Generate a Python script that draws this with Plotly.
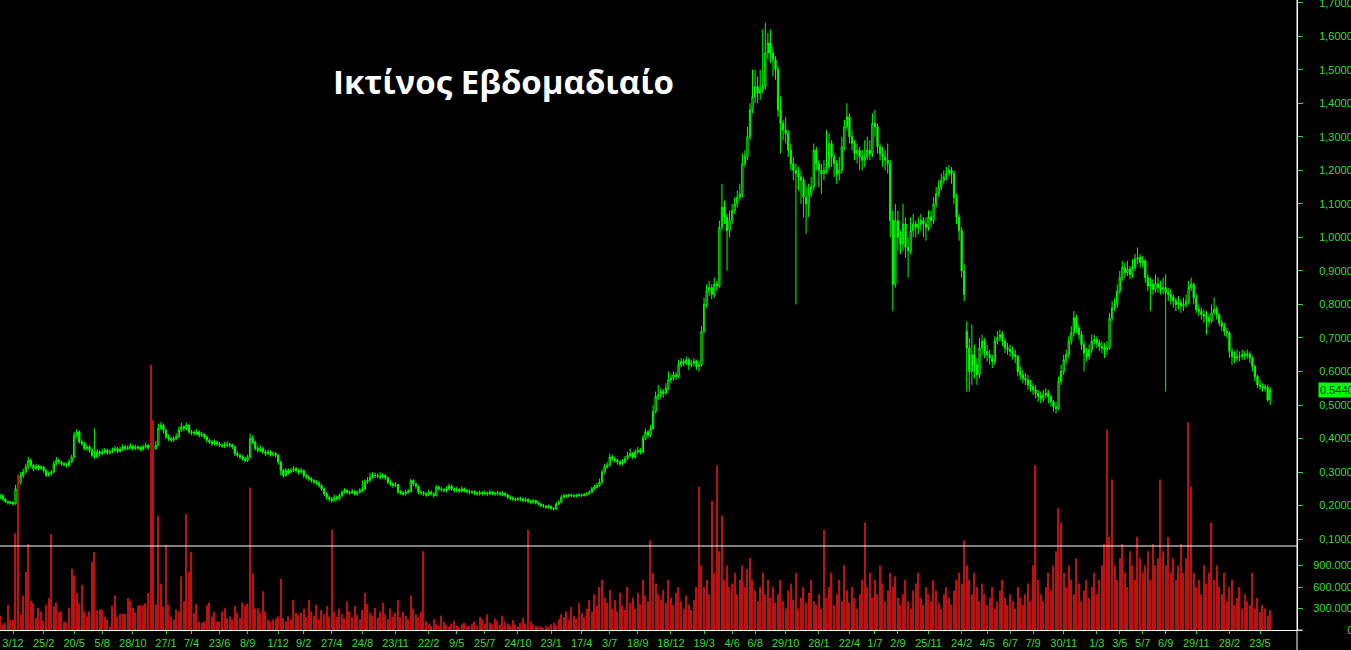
import pandas as pd
import plotly.graph_objects as go

# ---------------- data (weekly candles) ----------------
open_ = [
 .225,.230,.220,.212,.208,.210,.205,.250,.270,.290,
 .300,.315,.335,.320,.310,.318,.312,.315,.305,.290,
 .295,.300,.325,.335,.330,.325,.322,.320,.330,.345,
 .410,.420,.390,.385,.370,.375,.365,.350,.345,.360,
 .355,.360,.365,.358,.360,.365,.370,.362,.368,.375,
 .370,.372,.378,.370,.375,.372,.368,.375,.380,.372,
 .376,.370,.380,.430,.440,.425,.405,.400,.395,.400,
 .405,.425,.435,.430,.440,.420,.418,.415,.420,.410,
 .412,.405,.395,.390,.385,.390,.383,.380,.378,.380,
 .382,.380,.375,.355,.350,.345,.340,.335,.345,.400,
 .390,.370,.365,.370,.360,.355,.360,.352,.355,.350,
 .330,.305,.290,.305,.300,.305,.310,.305,.300,.305,
 .290,.285,.280,.275,.270,.268,.260,.250,.235,.225,
 .220,.215,.225,.220,.230,.240,.245,.240,.238,.242,
 .235,.240,.245,.250,.270,.275,.285,.290,.290,.288,
 .285,.290,.283,.270,.265,.260,.262,.240,.238,.235,
 .240,.242,.275,.265,.258,.240,.238,.235,.232,.240,
 .235,.230,.255,.250,.248,.245,.250,.258,.250,.245,
 .248,.243,.250,.245,.242,.240,.240,.238,.235,.238,
 .236,.238,.235,.240,.237,.235,.238,.234,.236,.232,
 .225,.222,.220,.218,.220,.220,.215,.218,.212,.210,
 .215,.208,.205,.200,.198,.195,.197,.192,.190,.205,
 .210,.225,.230,.228,.232,.230,.228,.230,.232,.230,
 .233,.235,.240,.250,.255,.260,.270,.300,.315,.320,
 .345,.340,.335,.330,.325,.330,.340,.350,.355,.345,
 .360,.365,.360,.400,.420,.410,.430,.480,.525,.530,
 .540,.535,.550,.575,.580,.590,.585,.620,.630,.625,
 .635,.620,.625,.630,.615,.620,.720,.800,.840,.850,
 .830,.860,.855,1.030,1.090,1.060,1.020,1.050,1.080,1.100,
 1.120,1.130,1.220,1.240,1.300,1.380,1.420,1.450,1.430,1.440,
 1.450,1.550,1.580,1.550,1.530,1.500,1.380,1.340,1.320,1.310,
 1.260,1.220,1.200,1.190,1.180,1.170,1.120,1.100,1.130,1.150,
 1.260,1.220,1.200,1.190,1.200,1.210,1.280,1.240,1.220,1.190,
 1.200,1.270,1.330,1.360,1.300,1.280,1.250,1.260,1.240,1.230,
 1.240,1.260,1.250,1.340,1.330,1.270,1.250,1.240,1.230,1.220,
 1.050,.860,1.050,1.000,.980,1.040,.970,.960,1.020,1.040,
 1.030,1.040,1.050,1.040,1.030,1.060,1.050,1.100,1.130,1.150,
 1.170,1.180,1.190,1.200,1.190,1.120,1.060,1.020,.900,.720,
 .670,.600,.650,.620,.590,.670,.690,.660,.650,.640,
 .630,.690,.700,.710,.690,.670,.665,.660,.650,.645,
 .600,.590,.580,.575,.560,.555,.545,.535,.525,.520,
 .530,.535,.525,.510,.495,.490,.570,.600,.635,.650,
 .690,.715,.760,.730,.710,.680,.655,.645,.665,.690,
 .695,.685,.675,.670,.665,.670,.760,.790,.800,.840,
 .880,.910,.895,.905,.890,.910,.935,.940,.925,.930,
 .880,.855,.860,.845,.862,.850,.845,.850,.835,.830,
 .822,.810,.800,.805,.795,.800,.810,.850,.860,.820,
 .785,.780,.770,.765,.760,.750,.775,.785,.770,.745,
 .735,.720,.715,.660,.645,.640,.645,.645,.650,.648,
 .652,.640,.615,.585,.560,.555,.550,.553,.515]

high = [
 .235,.233,.222,.215,.214,.212,.262,.285,.300,.310,
 .325,.345,.340,.325,.325,.322,.320,.318,.308,.302,
 .306,.333,.345,.340,.334,.330,.328,.338,.352,.420,
 .428,.424,.398,.390,.382,.380,.370,.430,.368,.366,
 .370,.372,.370,.368,.373,.378,.375,.376,.383,.380,
 .380,.386,.382,.382,.380,.377,.382,.388,.384,.384,
 .380,.392,.445,.450,.445,.428,.412,.405,.408,.415,
 .435,.448,.440,.447,.442,.426,.424,.428,.424,.420,
 .416,.408,.400,.396,.397,.394,.390,.386,.390,.392,
 .388,.385,.378,.362,.356,.350,.346,.352,.415,.410,
 .394,.378,.380,.375,.366,.368,.365,.362,.360,.352,
 .333,.310,.312,.310,.313,.318,.316,.310,.312,.308,
 .295,.290,.285,.280,.276,.272,.264,.254,.240,.230,
 .225,.232,.230,.236,.246,.252,.250,.245,.250,.246,
 .246,.252,.275,.278,.285,.298,.300,.298,.296,.300,
 .297,.294,.286,.275,.270,.270,.265,.246,.244,.248,
 .250,.280,.278,.268,.260,.246,.243,.240,.248,.245,
 .240,.262,.260,.255,.252,.258,.266,.262,.254,.256,
 .252,.258,.254,.250,.248,.246,.245,.242,.245,.244,
 .245,.242,.247,.244,.242,.245,.242,.243,.240,.235,
 .230,.228,.224,.226,.226,.224,.224,.222,.217,.220,
 .218,.212,.208,.205,.202,.203,.200,.196,.210,.216,
 .232,.236,.234,.236,.235,.234,.235,.237,.236,.238,
 .240,.246,.256,.262,.268,.280,.308,.325,.330,.356,
 .352,.346,.340,.336,.338,.348,.360,.370,.360,.368,
 .375,.372,.410,.430,.425,.440,.500,.540,.560,.550,
 .548,.565,.600,.592,.600,.598,.635,.640,.638,.645,
 .640,.635,.640,.635,.632,.735,.820,.860,.870,.860,
 .880,.870,1.050,1.160,1.110,1.070,1.080,1.100,1.120,1.140,
 1.160,1.250,1.260,1.330,1.400,1.500,1.500,1.480,1.500,1.620,
 1.640,1.610,1.620,1.570,1.540,1.510,1.420,1.350,1.360,1.320,
 1.280,1.240,1.220,1.210,1.200,1.180,1.150,1.160,1.180,1.280,
 1.270,1.230,1.220,1.230,1.320,1.310,1.290,1.250,1.230,1.240,
 1.300,1.350,1.400,1.370,1.320,1.290,1.280,1.270,1.260,1.290,
 1.300,1.290,1.370,1.380,1.340,1.280,1.270,1.260,1.280,1.230,
 1.080,1.100,1.080,1.020,1.100,1.060,1.000,1.060,1.070,1.050,
 1.060,1.070,1.060,1.060,1.080,1.080,1.120,1.150,1.170,1.190,
 1.200,1.210,1.215,1.210,1.200,1.130,1.070,1.030,.920,.750,
 .700,.740,.680,.640,.700,.710,.700,.680,.665,.650,
 .705,.720,.725,.720,.700,.685,.680,.675,.665,.650,
 .615,.605,.595,.590,.575,.565,.560,.545,.540,.545,
 .550,.545,.530,.515,.510,.585,.620,.650,.665,.705,
 .735,.780,.770,.740,.720,.690,.670,.680,.710,.710,
 .705,.695,.690,.685,.690,.775,.810,.820,.860,.900,
 .930,.925,.930,.915,.935,.950,.970,.950,.945,.935,
 .890,.880,.875,.890,.880,.870,.880,.890,.850,.845,
 .830,.820,.825,.815,.820,.830,.870,.880,.865,.830,
 .800,.790,.785,.780,.770,.800,.820,.795,.775,.755,
 .745,.730,.720,.670,.660,.665,.660,.665,.662,.665,
 .660,.645,.620,.590,.575,.565,.562,.560,.552]

low = [
 .218,.215,.208,.203,.204,.200,.203,.245,.262,.282,
 .295,.310,.312,.302,.305,.305,.306,.298,.285,.286,
 .290,.297,.320,.323,.318,.316,.313,.316,.326,.342,
 .400,.385,.378,.365,.364,.358,.345,.338,.340,.348,
 .350,.355,.352,.352,.356,.360,.356,.358,.363,.364,
 .365,.368,.364,.366,.366,.362,.364,.370,.366,.366,
 .350,.366,.378,.425,.415,.398,.393,.390,.390,.396,
 .402,.420,.422,.425,.414,.410,.408,.410,.403,.404,
 .398,.388,.384,.378,.380,.377,.374,.372,.372,.374,
 .373,.368,.348,.344,.338,.334,.328,.330,.342,.384,
 .364,.358,.360,.354,.348,.350,.346,.347,.343,.322,
 .290,.283,.286,.293,.296,.300,.298,.292,.295,.282,
 .278,.273,.268,.264,.262,.254,.244,.228,.218,.212,
 .208,.212,.214,.216,.226,.236,.234,.232,.234,.230,
 .230,.236,.240,.246,.265,.270,.280,.282,.282,.278,
 .280,.276,.264,.258,.252,.255,.234,.232,.229,.230,
 .236,.240,.258,.250,.234,.232,.229,.226,.228,.230,
 .224,.228,.244,.242,.239,.240,.245,.244,.239,.240,
 .237,.240,.239,.236,.234,.234,.232,.229,.230,.230,
 .231,.229,.231,.231,.229,.230,.228,.229,.226,.219,
 .216,.214,.213,.214,.214,.210,.210,.207,.205,.205,
 .203,.200,.195,.193,.190,.191,.187,.185,.188,.202,
 .207,.221,.224,.224,.226,.224,.224,.226,.226,.227,
 .229,.232,.237,.246,.251,.256,.266,.295,.310,.316,
 .333,.328,.322,.318,.320,.326,.336,.345,.338,.340,
 .355,.352,.356,.395,.400,.405,.425,.475,.515,.520,
 .522,.530,.545,.565,.572,.575,.580,.612,.615,.618,
 .605,.612,.615,.605,.600,.615,.715,.790,.825,.815,
 .820,.840,.850,1.020,1.040,.900,1.000,1.040,1.070,1.090,
 1.110,1.120,1.210,1.230,1.290,1.370,1.400,1.400,1.410,1.430,
 1.440,1.530,1.520,1.480,1.470,1.360,1.250,1.290,1.280,1.240,
 1.200,1.170,.800,1.140,1.100,1.060,1.010,1.060,1.120,1.140,
 1.200,1.150,1.130,1.170,1.190,1.200,1.210,1.180,1.160,1.170,
 1.190,1.260,1.320,1.280,1.260,1.230,1.220,1.200,1.200,1.210,
 1.230,1.230,1.240,1.300,1.250,1.230,1.210,1.200,1.190,1.000,
 .780,.850,.960,.950,.960,.940,.880,.950,1.000,1.000,
 1.010,1.020,1.000,.990,1.020,1.030,1.040,1.090,1.120,1.140,
 1.160,1.170,1.180,1.160,1.100,1.040,.990,.880,.810,.540,
 .540,.560,.580,.560,.580,.650,.640,.630,.620,.610,
 .620,.680,.690,.675,.655,.650,.645,.635,.625,.585,
 .575,.565,.560,.545,.540,.530,.520,.510,.505,.510,
 .520,.505,.495,.480,.475,.485,.560,.590,.625,.640,
 .680,.705,.715,.695,.665,.600,.630,.635,.655,.680,
 .670,.660,.655,.640,.650,.665,.750,.780,.790,.830,
 .870,.880,.885,.875,.880,.900,.920,.910,.910,.865,
 .840,.780,.830,.835,.835,.830,.830,.540,.810,.800,
 .790,.780,.785,.775,.780,.790,.800,.840,.800,.775,
 .765,.755,.745,.710,.735,.745,.770,.755,.735,.720,
 .705,.700,.640,.620,.625,.630,.630,.635,.635,.638,
 .625,.600,.570,.550,.545,.540,.540,.510,.500]

close = [
 .230,.220,.212,.208,.210,.205,.250,.270,.290,.300,
 .315,.335,.320,.310,.318,.312,.315,.305,.290,.295,
 .300,.325,.335,.330,.325,.322,.320,.330,.345,.410,
 .420,.390,.385,.370,.375,.365,.350,.345,.360,.355,
 .360,.365,.358,.360,.365,.370,.362,.368,.375,.370,
 .372,.378,.370,.375,.372,.368,.375,.380,.372,.376,
 .370,.380,.430,.440,.425,.405,.400,.395,.400,.405,
 .425,.435,.430,.440,.420,.418,.415,.420,.410,.412,
 .405,.395,.390,.385,.390,.383,.380,.378,.380,.382,
 .380,.375,.355,.350,.345,.340,.335,.345,.400,.390,
 .370,.365,.370,.360,.355,.360,.352,.355,.350,.330,
 .305,.290,.305,.300,.305,.310,.305,.300,.305,.290,
 .285,.280,.275,.270,.268,.260,.250,.235,.225,.220,
 .215,.225,.220,.230,.240,.245,.240,.238,.242,.235,
 .240,.245,.250,.270,.275,.285,.290,.290,.288,.285,
 .290,.283,.270,.265,.260,.262,.240,.238,.235,.240,
 .242,.275,.265,.258,.240,.238,.235,.232,.240,.235,
 .230,.255,.250,.248,.245,.250,.258,.250,.245,.248,
 .243,.250,.245,.242,.240,.240,.238,.235,.238,.236,
 .238,.235,.240,.237,.235,.238,.234,.236,.232,.225,
 .222,.220,.218,.220,.220,.215,.218,.212,.210,.215,
 .208,.205,.200,.198,.195,.197,.192,.190,.205,.210,
 .225,.230,.228,.232,.230,.228,.230,.232,.230,.233,
 .235,.240,.250,.255,.260,.270,.300,.315,.320,.345,
 .340,.335,.330,.325,.330,.340,.350,.355,.345,.360,
 .365,.360,.400,.420,.410,.430,.480,.525,.530,.540,
 .535,.550,.575,.580,.590,.585,.620,.630,.625,.635,
 .620,.625,.630,.615,.620,.720,.800,.840,.850,.830,
 .860,.855,1.030,1.090,1.060,1.020,1.050,1.080,1.100,1.120,
 1.130,1.220,1.240,1.300,1.380,1.420,1.450,1.430,1.440,1.450,
 1.550,1.580,1.550,1.530,1.500,1.380,1.340,1.320,1.310,1.260,
 1.220,1.200,1.190,1.180,1.170,1.120,1.100,1.130,1.150,1.260,
 1.220,1.200,1.190,1.200,1.210,1.280,1.240,1.220,1.190,1.200,
 1.270,1.330,1.360,1.300,1.280,1.250,1.260,1.240,1.230,1.240,
 1.260,1.250,1.340,1.330,1.270,1.250,1.240,1.230,1.220,1.050,
 .860,1.050,1.000,.980,1.040,.970,.960,1.020,1.040,1.030,
 1.040,1.050,1.040,1.030,1.060,1.050,1.100,1.130,1.150,1.170,
 1.180,1.190,1.200,1.190,1.120,1.060,1.020,.900,.830,.670,
 .600,.650,.620,.590,.670,.690,.660,.650,.640,.630,
 .690,.700,.710,.690,.670,.665,.660,.650,.645,.600,
 .590,.580,.575,.560,.555,.545,.535,.525,.520,.530,
 .535,.525,.510,.495,.490,.570,.600,.635,.650,.690,
 .715,.760,.730,.710,.680,.655,.645,.665,.690,.695,
 .685,.675,.670,.665,.670,.760,.790,.800,.840,.880,
 .910,.895,.905,.890,.910,.935,.940,.925,.930,.880,
 .855,.860,.845,.862,.850,.845,.850,.835,.830,.822,
 .810,.800,.805,.795,.800,.810,.850,.860,.820,.785,
 .780,.770,.765,.760,.750,.775,.785,.770,.745,.735,
 .720,.715,.660,.645,.640,.645,.645,.650,.648,.652,
 .640,.615,.585,.560,.555,.550,.553,.515,.544]

# weekly volume, thousands of shares
volume_k = [
 200,75,100,350,145,145,1350,2170,215,480,
 810,1200,410,375,170,310,260,130,350,445,
 1340,330,385,245,260,120,107,307,855,760,
 515,375,630,260,190,260,950,1090,275,285,
 285,190,145,50,340,480,190,227,227,227,
 445,410,307,245,340,350,345,375,515,3700,
 2930,355,1600,645,330,1190,355,190,145,285,
 260,750,400,1620,805,1090,240,365,120,100,
 120,345,385,190,260,120,120,260,305,165,
 190,145,330,240,165,385,340,365,1990,785,
 305,305,240,540,260,145,120,145,160,190,
 715,165,120,190,145,420,240,215,240,300,
 180,420,260,200,350,150,280,220,330,180,
 1400,250,180,300,220,160,400,260,180,330,
 210,150,280,520,360,240,200,310,170,260,
 380,220,150,300,190,240,420,180,260,200,
 150,480,300,220,180,250,1100,120,90,60,
 150,80,60,200,110,70,50,90,130,60,
 40,80,100,50,60,80,120,60,180,150,
 90,220,100,80,160,130,70,200,110,90,
 60,140,80,50,100,170,90,1400,120,80,
 60,40,50,30,60,40,80,100,60,150,
 220,180,260,140,320,200,160,380,240,180,
 300,420,260,500,340,600,700,450,380,560,
 300,420,260,520,340,280,600,380,450,300,
 520,360,700,480,400,1250,800,650,500,420,
 560,380,700,450,350,520,600,400,300,480,
 350,280,420,600,2000,900,600,700,500,1800,
 800,2300,1100,1600,700,900,600,650,800,500,
 700,900,600,850,1000,700,550,400,600,800,
 500,700,450,600,380,500,700,400,300,550,
 650,420,800,300,450,600,380,520,700,400,
 350,500,300,1400,450,600,800,350,500,700,
 400,900,550,380,600,450,300,500,700,1500,
 600,800,450,700,500,900,650,400,550,800,
 600,750,450,350,500,700,400,300,550,650,
 800,450,350,600,500,400,700,550,380,300,
 500,600,450,350,550,700,800,650,1250,900,
 700,500,800,600,400,650,500,350,450,600,
 300,400,550,700,450,350,500,400,300,600,
 450,350,500,650,400,900,2300,700,500,400,
 600,800,550,900,1100,1700,1500,800,600,900,
 700,500,1000,650,400,550,700,450,600,800,
 500,700,900,1200,2800,1300,2100,900,700,1000,
 1200,800,600,1100,900,700,1300,1000,800,900,
 1100,700,1200,900,1000,2100,1100,900,1300,800,
 1000,700,900,1200,800,1000,2900,2000,800,600,
 700,500,900,650,800,1500,700,900,600,500,
 800,400,600,700,350,450,600,300,500,400,
 350,800,300,450,250,350,300,200,280]

tick_dates = [
 "2012-12-03","2013-02-25","2013-05-20","2013-08-05","2013-10-28","2014-01-27",
 "2014-04-07","2014-06-23","2014-09-08","2014-12-01","2015-02-09","2015-04-27",
 "2015-08-24","2015-11-23","2016-02-22","2016-05-09","2016-07-25","2016-10-24",
 "2017-01-23","2017-04-17","2017-07-03","2017-09-18","2017-12-18","2018-03-19",
 "2018-06-04","2018-08-06","2018-10-29","2019-01-28","2019-04-22","2019-07-01",
 "2019-09-02","2019-11-25","2020-02-24","2020-05-04","2020-07-06","2020-09-07",
 "2020-11-30","2021-03-01","2021-05-03","2021-07-05","2021-09-06","2021-11-29",
 "2022-02-28","2022-05-23"]

closed_weeks = ["2015-06-29","2015-07-06","2015-07-13","2015-07-20","2015-07-27"]

price_ticks = [0.1,0.2,0.3,0.4,0.5,0.6,0.7,0.8,0.9,1.0,1.1,1.2,1.3,1.4,1.5,1.6,1.7]
vol_ticks = [300000, 600000, 900000]
last_price = 0.544
title_text = "Ικτίνος Εβδομαδιαίο"

# ---------------- build ----------------
GREEN = "#33dd33"
n = len(close)
all_weeks = pd.date_range("2012-10-29", periods=n + 10, freq="7D")
closed = set(pd.to_datetime(closed_weeks))
weeks = [d for d in all_weeks if d not in closed][:n]
x = list(range(n))
week_pos = {d: i for i, d in enumerate(weeks)}
tickvals = [week_pos[pd.Timestamp(d)] for d in tick_dates if pd.Timestamp(d) in week_pos]
ticktext = [f"{pd.Timestamp(d).day}/{pd.Timestamp(d).month}" for d in tick_dates if pd.Timestamp(d) in week_pos]
volume = [v * 1000 for v in volume_k]

fig = go.Figure()
fig.add_trace(go.Candlestick(
    x=x, open=open_, high=high, low=low, close=close, yaxis="y",
    increasing=dict(line=dict(color="#00ff00", width=1), fillcolor="#000000"),
    decreasing=dict(line=dict(color="#00ff00", width=1), fillcolor="#00ff00"),
    whiskerwidth=0, showlegend=False, hoverinfo="skip"))
fig.add_trace(go.Bar(
    x=x[:len(volume)], y=volume, yaxis="y2", width=0.5,
    marker=dict(color="#b81212", line=dict(width=0)), showlegend=False, hoverinfo="skip"))

tf = dict(family="Liberation Sans, Arial, sans-serif", size=11, color=GREEN)
VMAX = 8.795e6
fig.update_layout(
    template="none", width=1351, height=650, autosize=False,
    paper_bgcolor="black", plot_bgcolor="black",
    margin=dict(l=0, r=54, t=0, b=20, pad=0),
    showlegend=False,
    xaxis=dict(range=[-0.1, 508.5], tickvals=tickvals, ticktext=ticktext, tickfont=tf,
               ticks="outside", ticklen=3, tickcolor=GREEN, showgrid=False, zeroline=False,
               showline=True, linecolor="white", linewidth=1, automargin=False,
               rangeslider=dict(visible=False), fixedrange=True),
    yaxis=dict(range=[-0.171, 1.708], side="right", tickvals=price_ticks,
               ticktext=[f"{v:.4f}".replace(".", ",") for v in price_ticks],
               tickfont=tf, ticks="outside", ticklen=5, tickcolor=GREEN,
               showgrid=False, zeroline=False, showline=True, linecolor="white", linewidth=1,
               automargin=False, ticklabelstandoff=14, ticklabeloverflow="allow", fixedrange=True),
    yaxis2=dict(overlaying="y", side="right", range=[0, VMAX], tickvals=vol_ticks,
                ticktext=[f"{v:,}".replace(",", ".") for v in vol_ticks],
                tickfont=tf, ticks="outside", ticklen=5, tickcolor=GREEN,
                showgrid=False, zeroline=False, showline=False, automargin=False,
                ticklabelstandoff=8, ticklabeloverflow="allow", fixedrange=True),
    yaxis3=dict(overlaying="y", side="right", range=[0, VMAX], tickvals=[0], ticktext=["0"],
                tickfont=tf, ticks="outside", ticklen=5, tickcolor=GREEN,
                showgrid=False, zeroline=False, showline=False, automargin=False,
                ticklabelstandoff=42, ticklabeloverflow="allow", fixedrange=True),
    shapes=[
        dict(type="line", xref="paper", yref="paper", x0=0, x1=1, y0=1 - 546 / 630, y1=1 - 546 / 630,
             line=dict(color="white", width=1)),
        dict(type="line", xref="paper", yref="paper", x0=1, x1=1, y0=-0.04, y1=1,
             line=dict(color="white", width=1)),
        dict(type="line", xref="paper", yref="paper", x0=1, x1=1 + 5 / 1297, y0=0, y1=0,
             line=dict(color="white", width=1)),
    ],
    annotations=[
        dict(text=f"<b>{title_text}</b>", xref="paper", yref="paper", x=503 / 1297, y=1 - 82 / 630,
             xanchor="center", yanchor="middle", showarrow=False,
             font=dict(family="Open Sans, sans-serif", size=33, color="white")),
        dict(text=f"{last_price:.4f}".replace(".", ","), xref="paper", yref="y", x=1, y=last_price,
             xanchor="left", yanchor="middle", xshift=21, showarrow=False, bgcolor="#00ff00",
             borderpad=1, font=dict(family="Liberation Sans, Arial, sans-serif", size=11, color="#003300")),
    ],
)
# invisible point so that the "0" volume axis is rendered
fig.add_trace(go.Scatter(x=[0], y=[0], yaxis="y3", mode="markers", marker=dict(opacity=0),
                         showlegend=False, hoverinfo="skip"))

fig.write_html("out.html", config={"displayModeBar": False},
               post_script="document.body.style.margin='0';")
